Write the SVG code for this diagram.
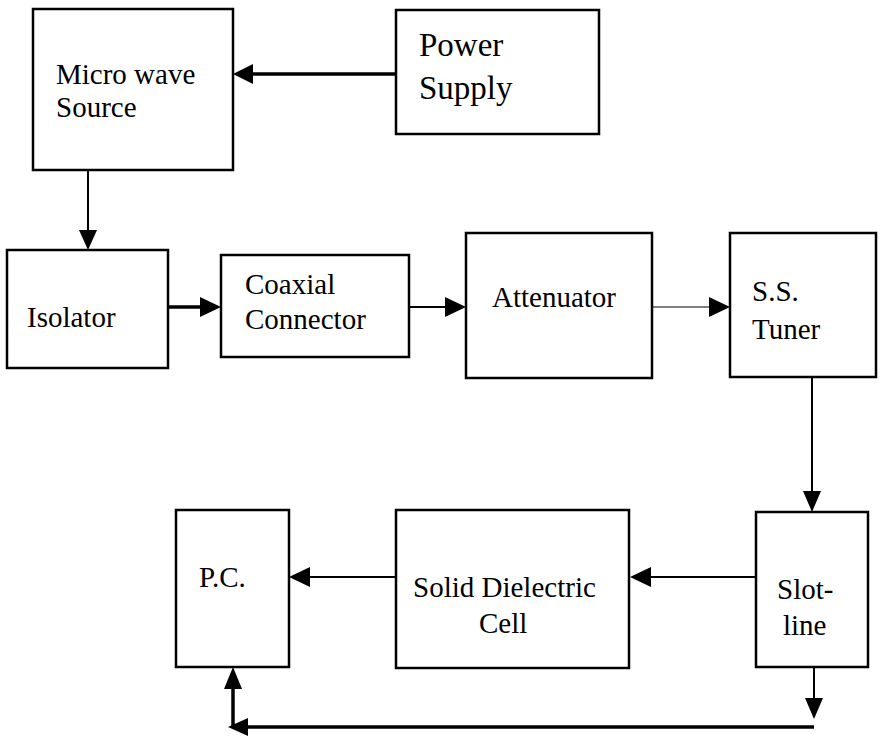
<svg xmlns="http://www.w3.org/2000/svg" width="880" height="741" viewBox="0 0 880 741" font-family="Liberation Serif, Times New Roman, serif">
<style>
.box{fill:#fff;stroke:#000;stroke-width:2.5}
.t{font-family:'Liberation Serif','Times New Roman',serif;font-size:29px;fill:#000}
.big{font-size:33px}
.c{fill:none;stroke:#000;stroke-width:2}
.thick{stroke-width:3.5}
.thin{stroke-width:1.2}
.ah{fill:#000;stroke:none}
</style>
<rect width="880" height="741" fill="#fff"/>
<g id="microwave"><rect class="box" x="33" y="9" width="200" height="161"/><text class="t" x="56" y="84">Micro wave</text><text class="t" x="56" y="117">Source</text></g>
<g id="power"><rect class="box" x="396" y="10" width="203" height="124"/><text class="t big" x="419" y="56">Power</text><text class="t big" x="419" y="99">Supply</text></g>
<g id="isolator"><rect class="box" x="7" y="250" width="161" height="118"/><text class="t" x="27" y="327">Isolator</text></g>
<g id="coaxial"><rect class="box" x="221" y="255" width="188" height="102"/><text class="t" x="245" y="294">Coaxial</text><text class="t" x="245" y="329">Connector</text></g>
<g id="attenuator"><rect class="box" x="466" y="233" width="186" height="145"/><text class="t" x="492" y="307">Attenuator</text></g>
<g id="tuner"><rect class="box" x="730" y="233" width="146" height="144"/><text class="t" x="752" y="301">S.S.</text><text class="t" x="752" y="339">Tuner</text></g>
<g id="slotline"><rect class="box" x="756" y="512" width="112" height="155"/><text class="t" x="777" y="599">Slot-</text><text class="t" x="783" y="635">line</text></g>
<g id="cell"><rect class="box" x="396" y="510" width="233" height="158"/><text class="t" x="413" y="597">Solid Dielectric</text><text class="t" x="479" y="633">Cell</text></g>
<g id="pc"><rect class="box" x="176" y="510" width="113" height="157"/><text class="t" x="199" y="587">P.C.</text></g>
<g id="connectors">
<line class="c thick" x1="396" y1="74" x2="250" y2="74"/><polygon class="ah" points="233,74 253,64 253,84"/>
<line class="c" x1="88" y1="170" x2="88" y2="232"/><polygon class="ah" points="88,250 79,230 97,230"/>
<line class="c thick" x1="168" y1="307" x2="203" y2="307"/><polygon class="ah" points="221,307 200,297 200,317"/>
<line class="c" x1="409" y1="307" x2="448" y2="307"/><polygon class="ah" points="466,307 445,297 445,317"/>
<line class="c thin" x1="652" y1="307" x2="712" y2="307"/><polygon class="ah" points="730,307 709,297 709,317"/>
<line class="c" x1="812" y1="377" x2="812" y2="494"/><polygon class="ah" points="812,512 803,491 821,491"/>
<line class="c" x1="756" y1="577" x2="648" y2="577"/><polygon class="ah" points="630,577 651,567 651,587"/>
<line class="c" x1="396" y1="577" x2="307" y2="577"/><polygon class="ah" points="289,577 310,567 310,587"/>
<line class="c" x1="814" y1="667" x2="814" y2="700"/><polygon class="ah" points="814,719 805,698 823,698"/>
<line class="c thick" x1="814" y1="727" x2="245" y2="727"/><polygon class="ah" points="228,727 248,718 248,736"/>
<line class="c thick" x1="233" y1="727" x2="233" y2="688"/><polygon class="ah" points="233,667 224,689 242,689"/>
</g>
</svg>
